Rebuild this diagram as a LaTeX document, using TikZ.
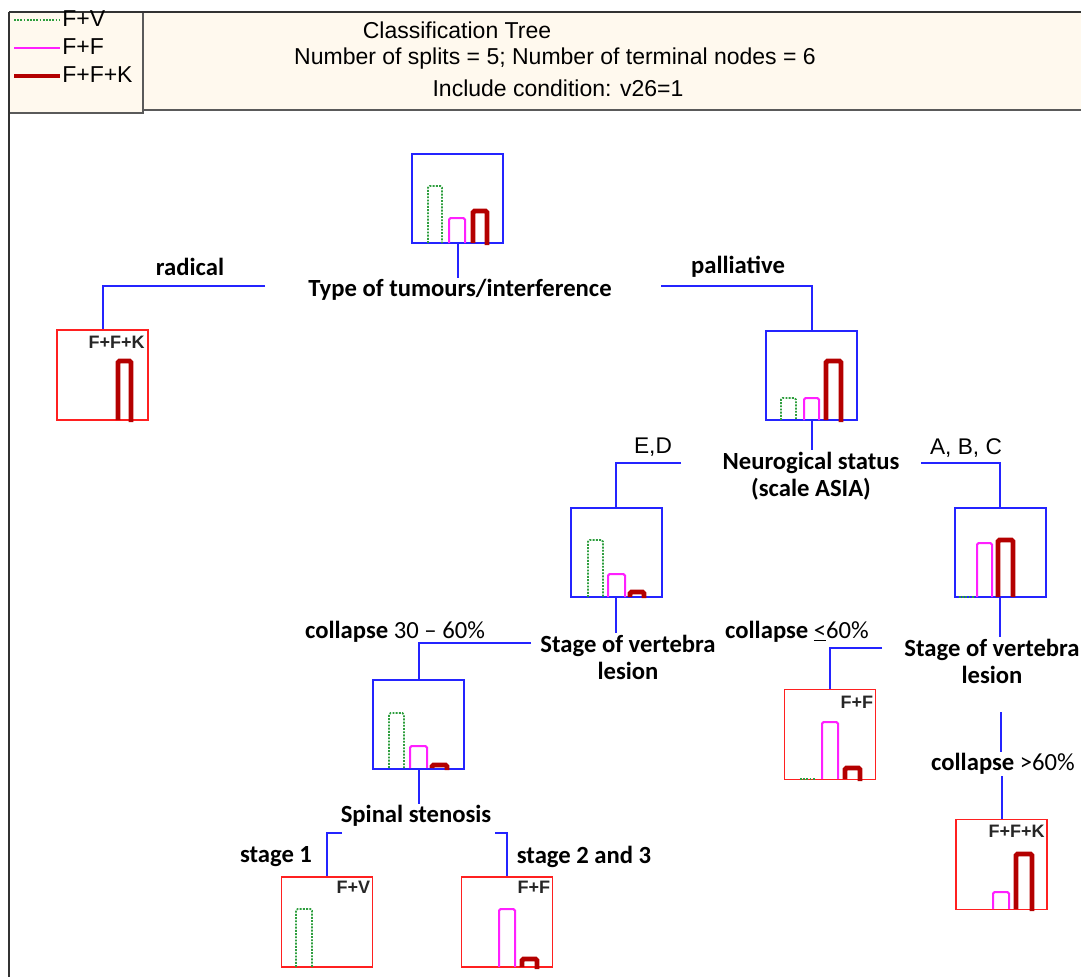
\documentclass[tikz,border=0pt]{standalone}
\usepackage{fontspec}
\setmainfont{Carlito}
\newfontfamily\arialfont{Liberation Sans}
\usetikzlibrary{calc}
\definecolor{treeblue}{RGB}{36,36,255}
\definecolor{termred}{RGB}{255,32,32}
\definecolor{fvgreen}{RGB}{46,158,62}
\definecolor{ffmag}{RGB}{255,32,255}
\definecolor{ffkred}{RGB}{180,0,0}
\definecolor{cream}{RGB}{255,249,238}
\definecolor{framegray}{RGB}{90,90,90}
\begin{document}
\begin{tikzpicture}[x=0.75pt,y=-0.75pt,
  pbox/.style={draw=treeblue,line width=1.5pt,minimum width=68.25pt,minimum height=66.75pt,inner sep=0pt},
  tbox/.style={draw=termred,line width=1.4pt,minimum width=68.25pt,minimum height=67.5pt,inner sep=0pt},
  conn/.style={draw=treeblue,line width=1.5pt},
  lab/.style={font=\fontsize{18.5pt}{20.25pt}\selectfont\bfseries,align=center,inner sep=1pt},
  alab/.style={font=\arialfont\fontsize{17pt}{19pt}\selectfont,inner sep=1pt},
  hdr/.style={font=\arialfont\fontsize{17.25pt}{20pt}\selectfont,inner sep=0pt},
  fvbar/.style={draw=fvgreen,line width=1.4pt,densely dotted,rounded corners=1.2pt},
  ffbar/.style={draw=ffmag,line width=1.5pt,rounded corners=1.2pt},
  ffkbar/.style={draw=ffkred,line width=3.6pt,rounded corners=1.2pt},
  tag/.style={font=\arialfont\bfseries\fontsize{13.5pt}{14pt}\selectfont,anchor=north east,inner sep=0pt,text=black!85}]
\useasboundingbox (0,0) rectangle (1081,977);

% ---------- header and legend ----------
\fill[cream] (9,12) rectangle (1081,110);
\fill[cream] (9,12) rectangle (143,113);
\draw[framegray,line width=1.6pt] (143,110) -- (1081,110);
\draw[framegray,line width=1.3pt] (143,12) -- (143,113) -- (9,113);
\draw[black!80,line width=1.1pt] (9,12) -- (1081,12);
\draw[black!80,line width=1.1pt] (9,12) -- (9,977);

\draw[fvbar,rounded corners=0pt] (14,20) -- (60,20);
\draw[ffbar,rounded corners=0pt] (14,48) -- (60,48);
\draw[ffkbar,rounded corners=0pt,line width=2.6pt] (14,76) -- (60,76);
\node[hdr,anchor=west] (legfv) at (62,19) {F+V};
\node[hdr,anchor=west] (legff) at (62,47) {F+F};
\node[hdr,anchor=west] (legffk) at (62,75) {F+F+K};

\node[hdr] (title) at (457,30) {Classification Tree};
\node[hdr] (splits) at (555,59) {Number of splits = 5; Number of terminal nodes = 6};
\node[hdr] (cond) at (558,88) {Include condition: v26=1};

% ---------- tree boxes ----------
\node[pbox] (n1) at (457.5,198.5) {};
\node[tbox] (L1) at (102.5,375) {};
\node[pbox] (n2) at (811.5,375) {};
\node[pbox] (n3) at (616,552.5) {};
\node[pbox] (n4) at (1000,552.5) {};
\node[tbox] (L3) at (830,734.5) {};
\node[tbox] (L4) at (1001.5,864.5) {};
\node[pbox] (n5) at (418.5,724) {};
\node[tbox] (L5) at (327,922) {};
\node[tbox] (L6) at (507,922) {};

% ---------- histogram bars ----------
% root
\draw[fvbar] (428,243) -- (428,186) -- (442,186) -- (442,243);
\draw[ffbar] (449,243) -- (449,218) -- (465,218) -- (465,243);
\draw[ffkbar] (473,243) -- (473,211) -- (487,211) -- (487,245);
% L1
\draw[ffkbar] (118,420) -- (118,361) -- (131,361) -- (131,422);
% n2
\draw[fvbar] (781,420) -- (781,398) -- (796,398) -- (796,420);
\draw[ffbar] (804,420) -- (804,398) -- (819,398) -- (819,420);
\draw[ffkbar] (826,420) -- (826,361) -- (841,361) -- (841,422);
% n3
\draw[fvbar] (588,597) -- (588,540) -- (603,540) -- (603,597);
\draw[ffbar] (608,597) -- (608,574) -- (625,574) -- (625,597);
\draw[ffkbar] (630,597) -- (630,592) -- (644,592) -- (644,598);
% n4
\draw[fvbar] (959,597) -- (975,597);
\draw[ffbar] (977,597) -- (977,543) -- (992,543) -- (992,597);
\draw[ffkbar] (998,597) -- (998,540) -- (1013,540) -- (1013,597);
% L3
\draw[fvbar] (800,779) -- (815,779);
\draw[ffbar] (822,779) -- (822,722) -- (838,722) -- (838,779);
\draw[ffkbar] (845,779) -- (845,768) -- (860,768) -- (860,781);
% L4
\draw[ffbar] (993,909) -- (993,892) -- (1009,892) -- (1009,909);
\draw[ffkbar] (1016,909) -- (1016,854) -- (1032,854) -- (1032,911);
% n5
\draw[fvbar] (389,768) -- (389,713) -- (404,713) -- (404,768);
\draw[ffbar] (410,768) -- (410,746) -- (427,746) -- (427,768);
\draw[ffkbar] (432,768) -- (432,765) -- (447,765) -- (447,770);
% L5
\draw[fvbar] (296,967) -- (296,909) -- (312,909) -- (312,967);
% L6
\draw[ffbar] (499,967) -- (499,909) -- (515,909) -- (515,967);
\draw[ffkbar] (522,967) -- (522,959) -- (537,959) -- (537,969);

% ---------- terminal tags ----------
\node[tag] (tagL1) at ($(L1.north east)+(-4,7)$) {F+F+K};
\node[tag] (tagL3) at ($(L3.north east)+(-3,7)$) {F+F};
\node[tag] (tagL4) at ($(L4.north east)+(-3,6)$) {F+F+K};
\node[tag] (tagL5) at ($(L5.north east)+(-3,5)$) {F+V};
\node[tag] (tagL6) at ($(L6.north east)+(-3,5)$) {F+F};

% ---------- split labels ----------
\node[lab] (t1) at (460,290) {Type of tumours/interference};
\node[lab] (t2) at (811,476) {Neurogical status\\(scale ASIA)};
\node[lab] (t3) at (628,657) {Stage of vertebra\\lesion};
\node[lab] (t4) at (992,661) {Stage of vertebra\\lesion};
\node[lab] (t5) at (416,816) {Spinal stenosis};

% ---------- branch labels ----------
\node[lab] (brad) at (190,267) {radical};
\node[lab] (bpal) at (738,267) {palliative};
\node[alab] (bed) at (653,447) {E,D};
\node[alab] (babc) at (966,448) {A, B, C};
\node[lab] (bc3060) at (395,632) {collapse {\mdseries 30 -- 60\%}};
\node[lab] (bcle60) at (797,632) {collapse {\mdseries\underline{<}60\%}};
\node[lab] (bcgt60) at (1003,764) {collapse {\mdseries >60\%}};
\node[lab] (bst1) at (276,857) {stage 1};
\node[lab] (bst23) at (584,857) {stage 2 and 3};

% ---------- connector ends ----------
\coordinate (bl1) at (265,286);
\coordinate (br1) at (661,286);
\coordinate (bl2) at (681,463);
\coordinate (br2) at (921,463);
\coordinate (bl3) at (531,643);
\coordinate (bl4) at (882,648);
\coordinate (bd4) at (1001,712);
\coordinate (bl5) at (342,833);
\coordinate (br5) at (495,833);

% ---------- connectors ----------
\draw[conn] (n1.south) -- (n1.south |- t1.north);
\draw[conn] (bl1) -| (L1.north);
\draw[conn] (br1) -| (n2.north);
\draw[conn] (n2.south) -- (n2.south |- t2.north);
\draw[conn] (bl2) -| (n3.north);
\draw[conn] (br2) -| (n4.north);
\draw[conn] (n3.south) -- (n3.south |- t3.north);
\draw[conn] (n4.south) -- (n4.south |- t4.north);
\draw[conn] (bl3) -| (n5.north);
\draw[conn] (bl4) -| (L3.north);
\draw[conn] (bd4) -- (bd4 |- bcgt60.north);
\draw[conn] (L4.north |- bcgt60.south) -- (L4.north);
\draw[conn] (n5.south) -- (n5.south |- t5.north);
\draw[conn] (bl5) -| (L5.north);
\draw[conn] (br5) -| (L6.north);
\end{tikzpicture}
\end{document}
